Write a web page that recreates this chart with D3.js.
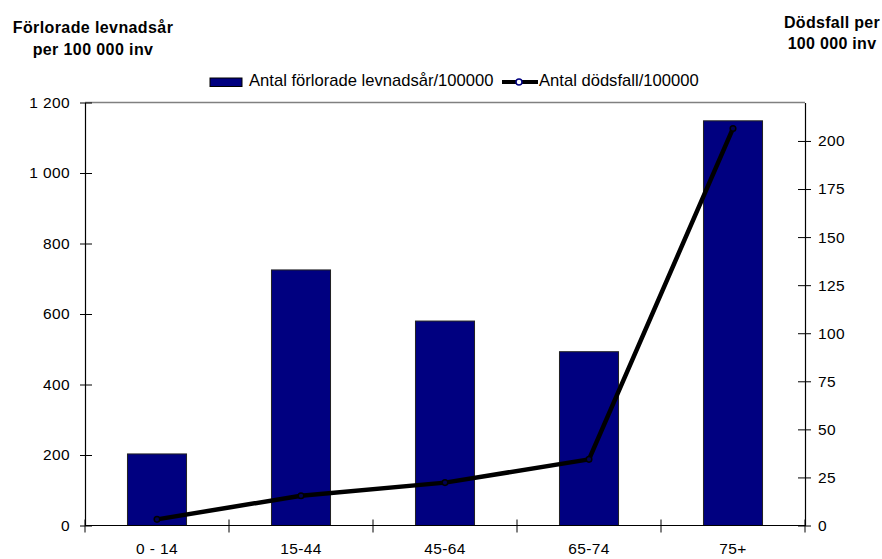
<!DOCTYPE html>
<html>
<head>
<meta charset="utf-8">
<script src="https://cdn.jsdelivr.net/npm/d3@7"></script>
<style>
  html, body { margin: 0; padding: 0; background: #fff; }
  svg { display: block; font-family: Arial, "Liberation Sans", sans-serif; }
</style>
</head>
<body>
<svg id="chart" width="882" height="559"></svg>
<script>
// Age groups and the two series per 100 000 inhabitants
const ageGroups = ["0 - 14", "15-44", "45-64", "65-74", "75+"];
const lostYears = [203, 725, 580, 493, 1148];   // förlorade levnadsår /100000
const deaths = [3.2, 15.5, 22.3, 34.4, 206.5];   // dödsfall /100000
const leftTicks = [0, 200, 400, 600, 800, 1000, 1200];
const rightTicks = [0, 25, 50, 75, 100, 125, 150, 175, 200];
const leftMax = 1200;
const rightMax = 220;

const svg = d3.select("#chart");
const plot = { left: 85, right: 805, top: 102.5, bottom: 525.5 };
const labelFont = { size: 15.5, spacing: 0.4 };

const x = d3.scaleBand().domain(ageGroups).range([plot.left, plot.right]).paddingInner(0.59).paddingOuter(0.295);
const xPos = d3.scalePoint().domain(ageGroups).range([plot.left, plot.right]).padding(0.5);
const yL = d3.scaleLinear().domain([0, leftMax]).range([plot.bottom, plot.top]);
const yR = d3.scaleLinear().domain([0, rightMax]).range([plot.bottom, plot.top]);

const fmt = v => d3.format(",")(v).replace(/,/g, " ");

// plot frame top line
svg.append("line")
  .attr("x1", plot.left).attr("x2", plot.right)
  .attr("y1", plot.top).attr("y2", plot.top)
  .attr("stroke", "#808080").attr("stroke-width", 1.5);

// bars
svg.append("g").selectAll("rect")
  .data(ageGroups)
  .join("rect")
  .attr("x", d => x(d))
  .attr("width", x.bandwidth())
  .attr("y", (d, i) => yL(lostYears[i]))
  .attr("height", (d, i) => yL(0) - yL(lostYears[i]))
  .attr("fill", "#000080")
  .attr("stroke", "#222")
  .attr("stroke-width", 1);

// left axis
const axL = svg.append("g").attr("transform", `translate(${plot.left},0)`)
  .call(d3.axisLeft(yL).tickValues(leftTicks).tickFormat(fmt).tickSizeInner(5).tickSizeOuter(0).tickPadding(10));
axL.selectAll(".tick line").attr("x2", -5).attr("x1", 7);
// right axis
const axR = svg.append("g").attr("transform", `translate(${plot.right},0)`)
  .call(d3.axisRight(yR).tickValues(rightTicks).tickSizeInner(6).tickSizeOuter(0).tickPadding(7));
axR.selectAll(".tick line").attr("x1", -7).attr("x2", 6);
// bottom axis: ticks at category boundaries
const axB = svg.append("g").attr("transform", `translate(0,${plot.bottom})`)
  .call(d3.axisBottom(x).tickSize(0).tickPadding(17));
axB.select(".domain").attr("d", `M${plot.left},0H${plot.right}`);
const bounds = d3.range(ageGroups.length + 1).map(i => plot.left + i * x.step());
axB.selectAll(".bnd").data(bounds).join("line")
  .attr("x1", d => d).attr("x2", d => d).attr("y1", -6).attr("y2", 7)
  .attr("stroke", "#000");

[axL, axR, axB].forEach(a => {
  a.selectAll("path.domain").attr("stroke", "#000").attr("stroke-width", 1.2);
  a.selectAll(".tick line").attr("stroke", "#000");
  a.selectAll("text").attr("font-size", labelFont.size).attr("letter-spacing", labelFont.spacing)
    .attr("fill", "#000").attr("font-family", "Arial, 'Liberation Sans', sans-serif");
});

// deaths line on the right axis
const line = d3.line().x((d, i) => xPos(ageGroups[i])).y(d => yR(d));
svg.append("path").datum(deaths)
  .attr("d", line).attr("fill", "none")
  .attr("stroke", "#000").attr("stroke-width", 4.5).attr("stroke-linejoin", "round");
svg.append("g").selectAll("circle").data(deaths).join("circle")
  .attr("cx", (d, i) => xPos(ageGroups[i])).attr("cy", d => yR(d))
  .attr("r", 2.8).attr("fill", "#000050").attr("stroke", "#000").attr("stroke-width", 1.5);

// axis titles
const titleL = svg.append("text").attr("font-weight", "bold").attr("font-size", 16)
  .attr("letter-spacing", 0.4).attr("text-anchor", "middle");
titleL.append("tspan").attr("x", 93).attr("y", 33).text("Förlorade levnadsår");
titleL.append("tspan").attr("x", 93).attr("y", 55).text("per 100 000 inv");
const titleR = svg.append("text").attr("font-weight", "bold").attr("font-size", 16)
  .attr("letter-spacing", 0.3).attr("text-anchor", "middle");
titleR.append("tspan").attr("x", 832).attr("y", 28).text("Dödsfall per");
titleR.append("tspan").attr("x", 832).attr("y", 49).text("100 000 inv");

// legend
const leg = svg.append("g").attr("font-size", 16.6);
leg.append("rect").attr("x", 210).attr("y", 78).attr("width", 32).attr("height", 8.5)
  .attr("fill", "#000080").attr("stroke", "#000").attr("stroke-width", 1);
leg.append("text").attr("x", 249).attr("y", 86).text("Antal förlorade levnadsår/100000");
leg.append("line").attr("x1", 502).attr("x2", 538).attr("y1", 82).attr("y2", 82)
  .attr("stroke", "#000").attr("stroke-width", 4);
leg.append("circle").attr("cx", 519).attr("cy", 82).attr("r", 3)
  .attr("fill", "#fff").attr("stroke", "#000080").attr("stroke-width", 1.5);
leg.append("text").attr("x", 539).attr("y", 86).text("Antal dödsfall/100000");
</script>
</body>
</html>
